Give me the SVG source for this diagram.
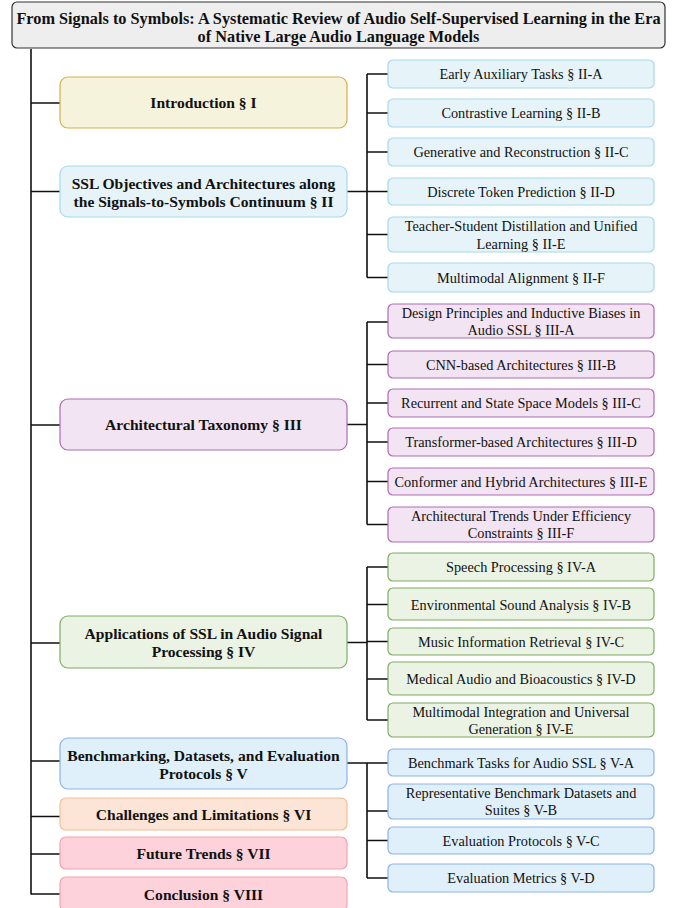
<svg xmlns="http://www.w3.org/2000/svg" width="682" height="908" viewBox="0 0 682 908">
<style>
text{font-family:"Liberation Serif","Times New Roman",serif;fill:#111;text-anchor:middle;dominant-baseline:central}
.t{font-size:16.3px;font-weight:bold}
.m{font-size:15.6px;font-weight:bold}
.c{font-size:14.3px}
.ln{stroke:#111;stroke-width:1.6;fill:none}
.title{fill:#eeeeee;stroke:#333;stroke-width:1.2}
.yel{fill:#f6f3dd;stroke:#d6b04a;stroke-width:1.2}
.blu{fill:#e6f4f9;stroke:#a6d9ea;stroke-width:1.2}
.pur{fill:#f2e4f2;stroke:#b06ab3;stroke-width:1.2}
.grn{fill:#ebf3e4;stroke:#7fae63;stroke-width:1.2}
.bl2{fill:#dff0fb;stroke:#8db3e8;stroke-width:1.2}
.org{fill:#fce5d6;stroke:#f3bf95;stroke-width:1.2}
.pnk{fill:#fdd2da;stroke:#f3a2b2;stroke-width:1.2}
</style>
<g id="connectors">
<path class="ln" d="M31 49V894.5"/>
<path class="ln" d="M31 103H60M31 191.5H60M31 425H60M31 643H60M31 761H60M31 816.5H60M31 854H60M31 894H60"/>
<path class="ln" d="M347 191.5H367M367 74V277.5M367 74H388M367 113H388M367 152H388M367 191.5H388M367 234.5H388M367 277.5H388"/>
<path class="ln" d="M347 424.5H367M367 322V524.5M367 322H388M367 364.5H388M367 403H388M367 442H388M367 481.5H388M367 524.5H388"/>
<path class="ln" d="M347 642.5H367M367 567V720M367 567H388M367 604.5H388M367 641.5H388M367 679H388M367 720H388"/>
<path class="ln" d="M347 763H367M367 763V878M367 763H388M367 811H388M367 840.5H388M367 878H388"/>
</g>
<g id="title"><rect class="title" x="12" y="2" width="653" height="46" rx="5"/><text class="t" x="338.5" y="18">From Signals to Symbols: A Systematic Review of Audio Self-Supervised Learning in the Era</text><text class="t" x="338.5" y="36">of Native Large Audio Language Models</text></g>
<g id="n1"><rect class="yel" x="60" y="77" width="287" height="51" rx="8"/><text class="m" x="203.5" y="102.5">Introduction § I</text></g>
<g id="n2"><rect class="blu" x="60" y="166" width="287" height="51" rx="8"/><text class="m" x="203.5" y="183">SSL Objectives and Architectures along</text><text class="m" x="203.5" y="201">the Signals-to-Symbols Continuum § II</text></g>
<g id="n2a"><rect class="blu" x="388" y="60" width="266" height="28" rx="5"/><text class="c" x="521" y="74">Early Auxiliary Tasks § II-A</text></g>
<g id="n2b"><rect class="blu" x="388" y="99" width="266" height="28" rx="5"/><text class="c" x="521" y="113">Contrastive Learning § II-B</text></g>
<g id="n2c"><rect class="blu" x="388" y="138" width="266" height="28" rx="5"/><text class="c" x="521" y="152">Generative and Reconstruction § II-C</text></g>
<g id="n2d"><rect class="blu" x="388" y="178" width="266" height="27" rx="5"/><text class="c" x="521" y="191.5">Discrete Token Prediction § II-D</text></g>
<g id="n2e"><rect class="blu" x="388" y="217" width="266" height="35" rx="5"/><text class="c" x="521" y="226">Teacher-Student Distillation and Unified</text><text class="c" x="521" y="244">Learning § II-E</text></g>
<g id="n2f"><rect class="blu" x="388" y="263" width="266" height="29" rx="5"/><text class="c" x="521" y="277.5">Multimodal Alignment § II-F</text></g>
<g id="n3"><rect class="pur" x="60" y="399" width="287" height="51" rx="8"/><text class="m" x="203.5" y="424.5">Architectural Taxonomy § III</text></g>
<g id="n3a"><rect class="pur" x="388" y="304" width="266" height="34" rx="5"/><text class="c" x="521" y="313">Design Principles and Inductive Biases in</text><text class="c" x="521" y="330">Audio SSL § III-A</text></g>
<g id="n3b"><rect class="pur" x="388" y="351" width="266" height="27" rx="5"/><text class="c" x="521" y="364.5">CNN-based Architectures § III-B</text></g>
<g id="n3c"><rect class="pur" x="388" y="389" width="266" height="28" rx="5"/><text class="c" x="521" y="403">Recurrent and State Space Models § III-C</text></g>
<g id="n3d"><rect class="pur" x="388" y="428" width="266" height="28" rx="5"/><text class="c" x="521" y="442">Transformer-based Architectures § III-D</text></g>
<g id="n3e"><rect class="pur" x="388" y="468" width="266" height="27" rx="5"/><text class="c" x="521" y="481.5">Conformer and Hybrid Architectures § III-E</text></g>
<g id="n3f"><rect class="pur" x="388" y="507" width="266" height="35" rx="5"/><text class="c" x="521" y="516">Architectural Trends Under Efficiency</text><text class="c" x="521" y="533">Constraints § III-F</text></g>
<g id="n4"><rect class="grn" x="60" y="616" width="287" height="52" rx="8"/><text class="m" x="203.5" y="633">Applications of SSL in Audio Signal</text><text class="m" x="203.5" y="651">Processing § IV</text></g>
<g id="n4a"><rect class="grn" x="388" y="553" width="266" height="28" rx="5"/><text class="c" x="521" y="567">Speech Processing § IV-A</text></g>
<g id="n4b"><rect class="grn" x="388" y="588" width="266" height="32" rx="5"/><text class="c" x="521" y="604.5">Environmental Sound Analysis § IV-B</text></g>
<g id="n4c"><rect class="grn" x="388" y="628" width="266" height="27" rx="5"/><text class="c" x="521" y="641.5">Music Information Retrieval § IV-C</text></g>
<g id="n4d"><rect class="grn" x="388" y="662" width="266" height="33" rx="5"/><text class="c" x="521" y="679">Medical Audio and Bioacoustics § IV-D</text></g>
<g id="n4e"><rect class="grn" x="388" y="703" width="266" height="34" rx="5"/><text class="c" x="521" y="712">Multimodal Integration and Universal</text><text class="c" x="521" y="729">Generation § IV-E</text></g>
<g id="n5"><rect class="bl2" x="60" y="738" width="287" height="51" rx="8"/><text class="m" x="203.5" y="755">Benchmarking, Datasets, and Evaluation</text><text class="m" x="203.5" y="773">Protocols § V</text></g>
<g id="n5a"><rect class="bl2" x="388" y="749" width="266" height="27" rx="5"/><text class="c" x="521" y="762.5">Benchmark Tasks for Audio SSL § V-A</text></g>
<g id="n5b"><rect class="bl2" x="388" y="784" width="266" height="35" rx="5"/><text class="c" x="521" y="793">Representative Benchmark Datasets and</text><text class="c" x="521" y="810">Suites § V-B</text></g>
<g id="n5c"><rect class="bl2" x="388" y="827" width="266" height="27" rx="5"/><text class="c" x="521" y="840.5">Evaluation Protocols § V-C</text></g>
<g id="n5d"><rect class="bl2" x="388" y="864" width="266" height="28" rx="5"/><text class="c" x="521" y="878">Evaluation Metrics § V-D</text></g>
<g id="n6"><rect class="org" x="60" y="798" width="287" height="32" rx="6"/><text class="m" x="203.5" y="814">Challenges and Limitations § VI</text></g>
<g id="n7"><rect class="pnk" x="60" y="837" width="287" height="32" rx="6"/><text class="m" x="203.5" y="853">Future Trends § VII</text></g>
<g id="n8"><rect class="pnk" x="60" y="877" width="287" height="34" rx="6"/><text class="m" x="203.5" y="894">Conclusion § VIII</text></g>
</svg>
